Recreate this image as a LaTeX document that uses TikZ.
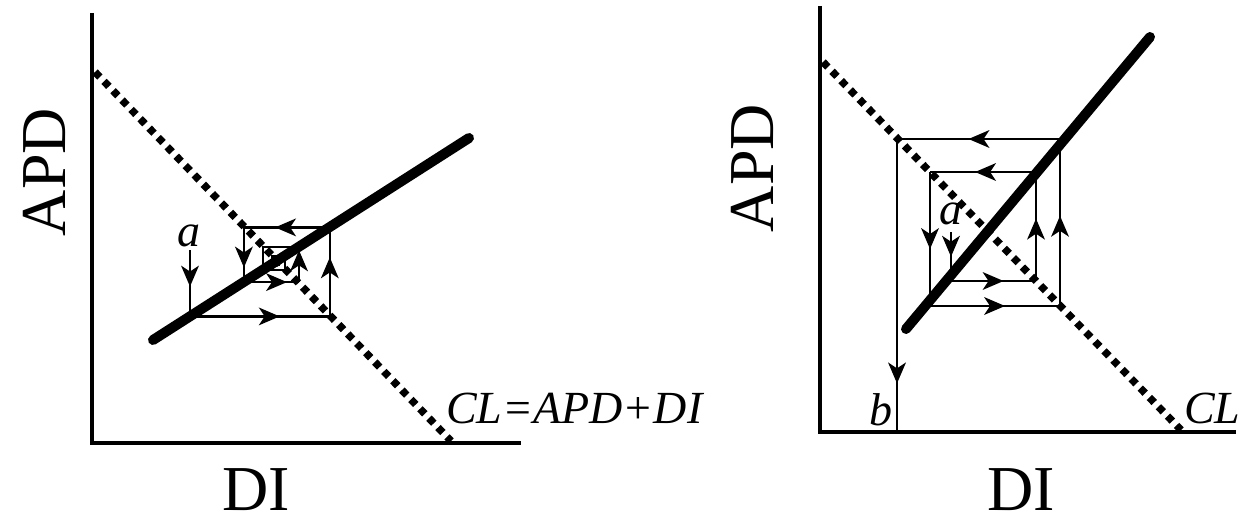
\documentclass[tikz,border=0pt]{standalone}
\usepackage{fontspec}
\setmainfont{Liberation Serif}
\usetikzlibrary{arrows.meta,decorations.markings}
\tikzset{
  axis/.style={line width=3.6pt},
  supply/.style={line width=10pt,line cap=round},
  cldots/.style={line width=7.5pt,dash pattern=on 7pt off 6pt},
  path/.style={line width=2.4pt},
  midarrow/.style={postaction={decorate},decoration={markings,
      mark=at position #1 with {\fill (10pt,0pt) -- (-11pt,9pt) -- (-5pt,0pt) -- (-11pt,-9pt) -- cycle;}}},
  axlabel/.style={font=\fontsize{64}{64}\selectfont,inner sep=0pt},
  itlabel/.style={font=\fontsize{46}{46}\selectfont\itshape,inner sep=0pt},
}
\begin{document}
\begin{tikzpicture}[x=1pt,y=-1pt]
\useasboundingbox (0,0) rectangle (1257,527);
% ---------- left panel ----------
\coordinate (LO) at (92,443);
\coordinate (LT) at (92,13);
\coordinate (LR) at (521,443);
\draw[axis] (LT) -- (LO) -- (LR);
\coordinate (LD1) at (95,72);
\coordinate (LD2) at (451,441);
\draw[cldots] (LD1) -- (LD2);
\coordinate (LS1) at (153,340);
\coordinate (LS2) at (469,138);
\draw[supply] (LS1) -- (LS2);
\coordinate (L0) at (190,250);
\coordinate (L1) at (190,316.4);
\coordinate (L2) at (329.8,316.4);
\coordinate (L3) at (329.8,227.4);
\coordinate (L4) at (243.9,227.4);
\coordinate (L5) at (243.9,282.1);
\coordinate (L6) at (299,282.1);
\coordinate (L7) at (299,247);
\coordinate (L8) at (263,247);
\coordinate (L9) at (263,270);
\coordinate (L10) at (285,270);
\coordinate (L11) at (285,256);
\coordinate (L12) at (272,256);
\coordinate (L13) at (272,264.3);
\coordinate (L14) at (279.5,264.3);
\draw[path,midarrow=0.4] (L0) -- (L1);
\draw[path,midarrow=0.57] (L1) -- (L2);
\draw[path,midarrow=0.55] (L2) -- (L3);
\draw[path,midarrow=0.52] (L3) -- (L4);
\draw[path,midarrow=0.55] (L4) -- (L5);
\draw[path,midarrow=0.6] (L5) -- (L6);
\draw[path,midarrow=0.62] (L6) -- (L7);
\draw[path] (L7) -- (L8) -- (L9) -- (L10) -- (L11) -- (L12) -- (L13) -- (L14);
\node[itlabel] (la) at (189,236) {a};
\node[itlabel,anchor=west] (lcl) at (446,408) {CL=APD+DI};
\node[axlabel,rotate=90] (lapd) at (44,172) {APD};
\node[axlabel] (ldi) at (256,490) {DI};
% ---------- right panel ----------
\coordinate (RO) at (820,432);
\coordinate (RT) at (820,6);
\coordinate (RR) at (1236,432);
\draw[axis] (RT) -- (RO) -- (RR);
\coordinate (RD1) at (823,62);
\coordinate (RD2) at (1181,430);
\draw[cldots] (RD1) -- (RD2);
\coordinate (RS1) at (906,329);
\coordinate (RS2) at (1150,37);
\draw[supply] (RS1) -- (RS2);
\coordinate (R0) at (951,232);
\coordinate (R1) at (951,281);
\coordinate (R2) at (1036,281);
\coordinate (R3) at (1036,172);
\coordinate (R4) at (930,172);
\coordinate (R5) at (930,306);
\coordinate (R6) at (1060,306);
\coordinate (R7) at (1060,139);
\coordinate (R8) at (897,139);
\coordinate (R9) at (897,432);
\draw[path,midarrow=0.3] (R0) -- (R1);
\draw[path,midarrow=0.5] (R1) -- (R2);
\draw[path,midarrow=0.48] (R2) -- (R3);
\draw[path,midarrow=0.48] (R3) -- (R4);
\draw[path,midarrow=0.5] (R4) -- (R5);
\draw[path,midarrow=0.5] (R5) -- (R6);
\draw[path,midarrow=0.48] (R6) -- (R7);
\draw[path,midarrow=0.5] (R7) -- (R8);
\draw[path,midarrow=0.8] (R8) -- (R9);
\node[itlabel] (ra) at (951,214) {a};
\node[itlabel] (rb) at (881,410) {b};
\node[itlabel,anchor=west] (rcl) at (1184,408) {CL};
\node[axlabel,rotate=90] (rapd) at (752,168) {APD};
\node[axlabel] (rdi) at (1021,490) {DI};
\end{tikzpicture}
\end{document}
